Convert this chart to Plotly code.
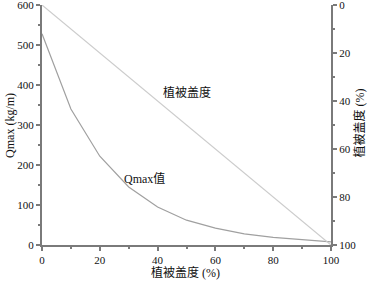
import plotly.graph_objects as go

coverage = [0, 10, 20, 30, 40, 50, 60, 70, 80, 90, 100]
qmax = [528, 340, 222, 145, 95, 62, 42, 28, 19, 13, 8]
veg_x = [0, 100]
veg_y = [0, 100]

serif = "Liberation Serif, Times New Roman, DejaVu Serif, Noto Sans CJK SC, serif"
axcol = "#7a7a7a"

fig = go.Figure()
fig.add_trace(go.Scatter(x=coverage, y=qmax, mode="lines",
                         line=dict(color="#a0a0a0", width=1.2), yaxis="y"))
fig.add_trace(go.Scatter(x=veg_x, y=veg_y, mode="lines",
                         line=dict(color="#cccccc", width=1.2), yaxis="y2"))

tickfont = dict(family=serif, size=11, color="#111")
common = dict(ticks="outside", ticklen=4, tickwidth=1.5, tickcolor=axcol,
              showline=True, linecolor=axcol, linewidth=2, showgrid=False,
              zeroline=False, tickfont=tickfont, automargin=False,
              ticklabeloverflow="allow")
fig.update_layout(
    width=368, height=281,
    margin=dict(l=42, r=37, t=5, b=36, autoexpand=False),
    paper_bgcolor="white", plot_bgcolor="white",
    showlegend=False,
    xaxis=dict(range=[0, 100], dtick=20, **common,
               minor=dict(dtick=10, ticks="outside", ticklen=2, tickcolor=axcol)),
    yaxis=dict(range=[0, 600], dtick=100, **common,
               minor=dict(dtick=50, ticks="outside", ticklen=2, tickcolor=axcol)),
    yaxis2=dict(range=[100, 0], dtick=20, overlaying="y", side="right", **common,
                minor=dict(dtick=10, ticks="outside", ticklen=2, tickcolor=axcol)),
)

annfont = dict(family=serif, size=12, color="#111")
ann = dict(showarrow=False, font=annfont, xanchor="center", yanchor="middle")
fig.add_annotation(x=50, y=382, xref="x", yref="y", text="植被盖度", **ann)
fig.add_annotation(x=35.6, y=167, xref="x", yref="y", text="Qmax值", **ann)
fig.add_annotation(x=0.498, y=-0.1125, xref="paper", yref="paper",
                   text="植被盖度 (%)", **ann)
fig.add_annotation(x=-0.111, y=0.5, xref="paper", yref="paper",
                   text="Qmax (kg/m)", textangle=-90, **ann)
fig.add_annotation(x=1.10, y=0.51, xref="paper", yref="paper",
                   text="植被盖度 (%)", textangle=-90, **ann)

fig.write_html("out.html", config={"displayModeBar": False},
               post_script="document.body.style.margin='0';document.body.style.padding='0';")
